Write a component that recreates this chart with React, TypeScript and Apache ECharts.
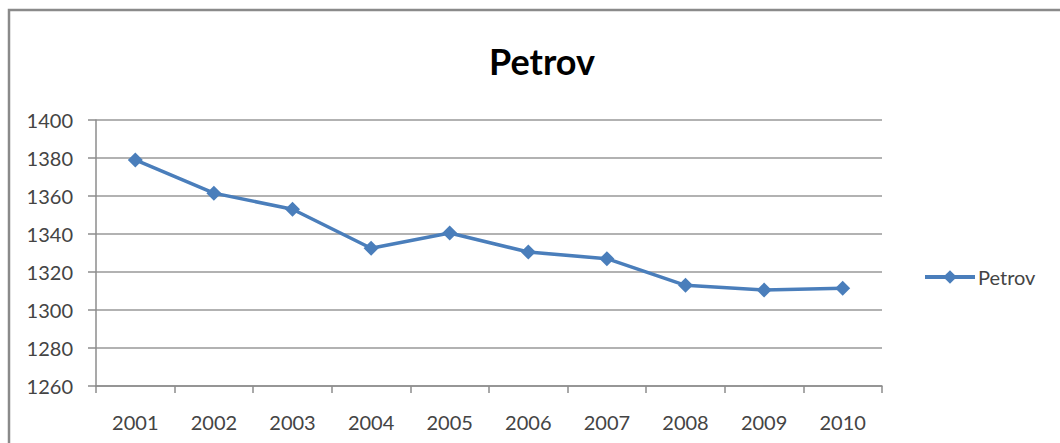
import React, { useEffect, useRef } from "react";
import * as echarts from "echarts";

const categories = ["2001", "2002", "2003", "2004", "2005", "2006", "2007", "2008", "2009", "2010"];
const petrov = [1379, 1361.5, 1353, 1332.5, 1340.5, 1330.5, 1327, 1313, 1310.5, 1311.5];
const seriesName = "Petrov";
const titleText = "Petrov";

const FONT = "Lato, 'Noto Sans', sans-serif";
const BLUE = "#4a7ebb";

export default function App() {
  const ref = useRef<HTMLDivElement>(null);
  useEffect(() => {
    if (!ref.current) return;
    const chart = echarts.init(ref.current, null, { renderer: "svg" });
    chart.setOption({
      animation: false,
      backgroundColor: "#ffffff",
      title: {
        text: titleText,
        left: 537,
        top: 38,
        textAlign: "center",
        textStyle: { fontFamily: FONT, fontSize: 36, fontWeight: "bold", color: "#000" },
      },
      legend: {
        left: 918,
        top: 262,
        itemWidth: 50,
        itemHeight: 17,
        itemGap: 4,
        data: [seriesName],
        lineStyle: { width: 4, color: BLUE },
        textStyle: { fontFamily: FONT, fontSize: 20, color: "#444", padding: [0, 0, 0, -2] },
      },
      graphic: [
        {
          type: "rect",
          shape: { x: 9, y: 10, width: 1100, height: 500 },
          style: { fill: "none", stroke: "#8a8a8a", lineWidth: 2.5 },
          silent: true,
        },
      ],
      grid: { left: 96, right: 178, top: 120, bottom: 57 },
      xAxis: {
        type: "category",
        data: categories,
        boundaryGap: true,
        axisLine: { lineStyle: { color: "#8c8c8c", width: 1.5 } },
        axisTick: { show: true, length: 7, lineStyle: { color: "#8c8c8c", width: 1.5 } },
        axisLabel: { fontFamily: FONT, fontSize: 20, color: "#444", margin: 26 },
      },
      yAxis: {
        type: "value",
        min: 1260,
        max: 1400,
        interval: 20,
        axisLine: { show: true, lineStyle: { color: "#8c8c8c", width: 1.5 } },
        axisTick: { show: true, length: 8, lineStyle: { color: "#8c8c8c", width: 1.5 } },
        axisLabel: {
          fontFamily: FONT,
          fontSize: 20,
          color: "#444",
          margin: 23,
          formatter: (v: number) => String(v),
        },
        splitLine: { lineStyle: { color: "#999999", width: 1.5 } },
      },
      series: [
        {
          name: seriesName,
          type: "line",
          data: petrov,
          symbol: "diamond",
          symbolSize: 15,
          itemStyle: { color: BLUE },
          lineStyle: { color: BLUE, width: 3.5 },
        },
      ],
    });
    return () => chart.dispose();
  }, []);
  return (
    <div
      ref={ref}
      style={{ position: "absolute", left: 0, top: 0, width: 1060, height: 443 }}
    />
  );
}
